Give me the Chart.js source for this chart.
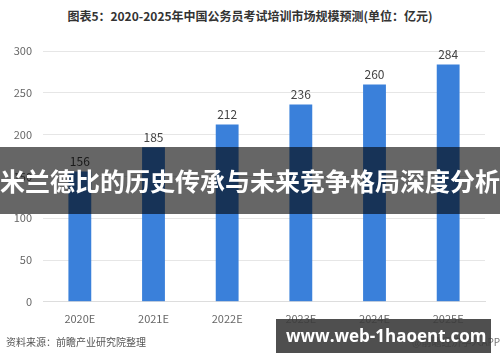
<!DOCTYPE html>
<html lang="zh">
<head>
    <meta charset="UTF-8">
    <title>公务员考试培训市场规模预测</title>
    <style>
        html, body {
            margin: 0;
            padding: 0;
            background: #fff;
        }
        body {
            width: 500px;
            height: 362px;
            position: relative;
            overflow: hidden;
            font-family: 'Noto Sans CJK SC', 'Noto Sans', sans-serif;
        }
        .title {
            position: absolute;
            top: 7px;
            left: 0;
            width: 500px;
            text-align: center;
            font-size: 12px;
            font-weight: bold;
            color: #333;
        }
        .chart-box {
            position: absolute;
            left: 0;
            top: 0;
            width: 500px;
            height: 362px;
        }
        .band {
            position: absolute;
            left: 0;
            top: 147px;
            width: 500px;
            height: 67px;
            background: rgba(0, 0, 0, 0.6);
            color: #fff;
            font-size: 25px;
            font-weight: bold;
            line-height: 67px;
            white-space: nowrap;
        }
        .source {
            position: absolute;
            left: 6px;
            top: 334px;
            font-size: 10px;
            color: #555;
        }
        .app {
            position: absolute;
            left: 412px;
            top: 334px;
            font-size: 10px;
            color: #777;
            white-space: nowrap;
        }
        .site {
            position: absolute;
            left: 276px;
            top: 319px;
            width: 205px;
            height: 34px;
            padding-left: 10px;
            background: rgba(60, 60, 60, 0.9);
            color: #fff;
            font-family: 'Open Sans', sans-serif;
            font-size: 17px;
            font-weight: bold;
            line-height: 34px;
            white-space: nowrap;
        }
    </style>
    <script src="https://cdn.jsdelivr.net/npm/chart.js"></script>
</head>
<body>
    <div class="title">图表5：2020-2025年中国公务员考试培训市场规模预测(单位：亿元)</div>
    <div class="chart-box">
        <canvas id="marketChart" width="500" height="362"></canvas>
    </div>
    <div class="band">米兰德比的历史传承与未来竞争格局深度分析</div>
    <div class="source">资料来源：前瞻产业研究院整理</div>
    <div class="app">@前瞻经济学人APP</div>
    <div class="site">www.web-1haoent.com</div>
    <script>
        const years = ["2020E", "2021E", "2022E", "2023E", "2024E", "2025E"];
        const marketSize = [156, 185, 212, 236, 260, 284];
        const yTicks = [0, 50, 100, 150, 200, 250, 300];

        // value labels above each bar
        const barLabels = {
            id: 'barLabels',
            afterDatasetsDraw(chart) {
                const ctx = chart.ctx;
                const meta = chart.getDatasetMeta(0);
                ctx.save();
                ctx.font = '12px "Noto Sans CJK SC", sans-serif';
                ctx.fillStyle = '#444';
                ctx.textAlign = 'center';
                ctx.textBaseline = 'bottom';
                meta.data.forEach((bar, i) => {
                    ctx.fillText(marketSize[i], bar.x, bar.y - 4);
                });
                ctx.restore();
            }
        };

        const ctx = document.getElementById('marketChart').getContext('2d');
        new Chart(ctx, {
            type: 'bar',
            data: {
                labels: years,
                datasets: [{
                    data: marketSize,
                    backgroundColor: '#3a80da',
                    borderWidth: 0,
                    barPercentage: 0.31,
                    categoryPercentage: 1
                }]
            },
            options: {
                responsive: false,
                animation: false,
                layout: {
                    padding: { top: 51, right: 15, bottom: 27, left: 0 }
                },
                plugins: {
                    legend: { display: false },
                    tooltip: { enabled: false }
                },
                scales: {
                    x: {
                        grid: { display: false, drawTicks: false },
                        border: { color: '#ddd' },
                        ticks: {
                            color: '#666',
                            padding: 10,
                            maxRotation: 0,
                            autoSkip: false,
                            font: { size: 11, family: '"Noto Sans CJK SC", sans-serif' }
                        }
                    },
                    y: {
                        min: 0,
                        max: 300,
                        afterBuildTicks(scale) {
                            scale.ticks = yTicks.map(v => ({ value: v }));
                        },
                        grid: { color: '#e6e6e6', drawTicks: false },
                        border: { display: false },
                        ticks: {
                            color: '#666',
                            padding: 11,
                            font: { size: 11, family: '"Noto Sans CJK SC", sans-serif' }
                        },
                        afterFit(scale) { scale.width = 43; }
                    }
                }
            },
            plugins: [barLabels]
        });
    </script>
</body>
</html>
